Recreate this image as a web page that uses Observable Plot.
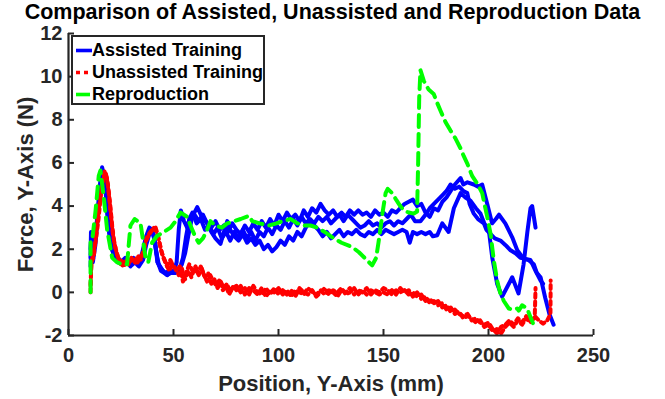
<!DOCTYPE html>
<html>
<head>
<meta charset="utf-8">
<script src="https://cdn.jsdelivr.net/npm/d3@7"></script>
<script src="https://cdn.jsdelivr.net/npm/@observablehq/plot@0.6"></script>
<style>
  body { margin: 0; background: #fff; }
  #wrap { position: relative; width: 665px; height: 399px; font-family: "Liberation Sans", Arial, sans-serif; }
  #title { position: absolute; left: 0; top: 0; width: 665px; text-align: center; font-weight: bold; font-size: 21.5px; line-height: 24px; color: #000; z-index: 2; white-space: nowrap; }
  #chart { position: absolute; left: 0; top: 0; }
  #legend { position: absolute; left: 71px; top: 35px; width: 190px; height: 66px; border: 2px solid #262626; background: #fff; z-index: 2; }
  .row { position: absolute; left: 0; height: 22px; width: 190px; }
  .row svg { position: absolute; left: 3px; top: 9px; }
  .row span { position: absolute; left: 19px; top: 0; font-weight: bold; font-size: 18px; line-height: 22px; color: #000; white-space: nowrap; }
</style>
</head>
<body>
<div id="wrap">
  <div id="chart"></div>
  <div id="title"></div>
  <div id="legend"></div>
</div>
<script>
// ---- text ----
const titleText = "Comparison of Assisted, Unassisted and Reproduction Data";
const xLabel = "Position, Y-Axis (mm)";
const yLabel = "Force, Y-Axis (N)";
const seriesNames = ["Assisted Training", "Unassisted Training", "Reproduction"];
const seriesColors = ["#0000ff", "#ff0000", "#00ff00"];

// ---- ticks ----
const xTicks = [0, 50, 100, 150, 200, 250];
const yTicks = [-2, 0, 2, 4, 6, 8, 10, 12];

// ---- Assisted training trials: [position mm, force N] ----
const assisted1 = [[10.5,1.6],[10.7,2.8],[11.5,1.9],[12.5,2.3],[13.8,3.6],[15,5.0],[16,5.8],[17,5.4],[18,4.3],[19,3.1],[20,2.3],[21.5,1.8],[23,1.5],[25,1.4],[27,1.6],[29,1.4],[31,1.6],[33,1.3],[35,1.8],[37,2.6],[38.5,3.0],[40,2.9],[41.3,2.3],[42.3,1.4],[44,1.1],[46,0.9],[48,1.0],[50,0.9],[51.5,1.4],[52.5,2.9],[53.5,3.8],[55,3.3],[56.5,3.0],[58,3.5],[60,3.6],[62,3.3],[64,3.6],[66,3.2],[68,3.0],[70,3.3],[72,2.9],[74,3.1],[76,2.8],[78,3.2],[80,2.9],[82,2.7],[84,3.1],[86,2.8],[88,3.2],[90,2.9],[92,3.3],[94,3.0],[96,3.4],[98,3.1],[100,3.6],[102,3.3],[104,3.7],[106,3.4],[108,3.6],[110,3.3],[112,3.8],[114,3.5],[116,3.9],[118,3.7],[120,4.1],[122,3.8],[124,3.6],[126,3.8],[128,3.5],[130,3.7],[132,3.5],[134,3.8],[136,3.6],[138,3.8],[140,3.6],[142,3.7],[144,3.5],[146,3.8],[148,3.6],[150,3.7],[152,3.5],[154,3.8],[156,3.7],[158,3.9],[160,4.1],[162,4.2],[164,4.3],[166,4.0],[168,4.1],[170,3.7],[172,3.5],[174,3.9],[176,3.8],[178,4.2],[180,4.4],[182,4.7],[184,5.0],[186.7,5.3],[188,5.0],[190,5.1],[193,5.0],[195,4.9],[197,5.0],[199.4,4.1],[201.7,3.2],[203.5,3.4],[205,3.6],[208,3.2],[211.3,2.55],[213.7,1.95],[216.8,1.55],[219,1.5],[221.6,1.3],[223,0.9],[224.8,0.7],[227,-0.25],[229,-1.0],[231,-1.5]];
const assisted2 = [[10.5,2.0],[10.9,2.6],[11.8,1.7],[13,2.7],[14.5,4.3],[15.7,5.4],[16.6,5.6],[17.6,4.9],[18.6,3.6],[19.8,2.5],[21,1.9],[22.5,1.6],[24.5,1.5],[26.5,1.3],[28.5,1.5],[30.5,1.3],[32.5,1.5],[34.5,1.4],[36,2.0],[37.5,2.6],[39,2.9],[40.5,2.7],[41.7,1.9],[43,1.3],[45,1.0],[47,0.8],[49,1.0],[51,0.9],[53,1.1],[54.5,1.6],[56,2.6],[57.5,3.4],[59,3.7],[61,3.2],[63,3.4],[65,2.9],[67,3.1],[69,2.7],[71,3.0],[73,2.5],[75,2.8],[77,2.4],[79,2.8],[81,2.5],[83,2.9],[85,2.5],[87,2.8],[89,2.4],[91,2.8],[93,2.6],[95,3.0],[97,2.7],[99,3.1],[101,2.9],[103,3.3],[105,3.0],[107,3.4],[109,3.1],[111,3.5],[113,3.2],[115,3.4],[117,3.2],[119,3.5],[121,3.3],[123,3.5],[125,3.2],[127,3.4],[129,3.6],[131,3.3],[133,3.6],[135,3.4],[137,3.2],[139,3.0],[141,3.1],[143,3.3],[145,3.1],[147,3.2],[149,3.0],[151,3.2],[153,3.3],[155,3.1],[157,3.3],[159,3.2],[161,3.4],[163,3.6],[165,3.3],[167.6,3.3],[170,3.6],[172,3.9],[174,4.1],[176,4.3],[178,4.5],[180,4.7],[181.9,5.0],[184,4.8],[186,4.9],[188,4.7],[189.9,4.6],[191,4.1],[193,3.65],[195,3.4],[197.8,3.2],[199,2.9],[201,2.7],[203,2.5],[205.7,2.4],[208,2.2],[210.5,1.95],[213,1.8],[215.2,1.6],[217.5,1.55],[220,1.5],[222.4,1.0],[224.8,0.55],[226,0.4]];
const assisted3 = [[10.5,1.2],[10.8,2.3],[11.6,1.4],[12.8,2.2],[14.2,3.8],[15.5,5.0],[16.5,5.5],[17.4,5.2],[18.4,4.0],[19.5,2.8],[20.8,2.0],[22,1.6],[23.5,1.4],[25.5,1.3],[27.5,1.5],[29.5,1.2],[31.5,1.4],[33.5,1.2],[35.5,1.5],[37,2.2],[38.5,2.7],[40,2.8],[41.2,2.3],[42.5,1.4],[44,1.0],[45.5,0.9],[47,0.8],[48.6,0.9],[50.2,0.9],[52,1.0],[54,1.3],[55.5,1.8],[57,2.6],[58.9,3.5],[61.3,3.95],[63.5,3.5],[66,3.2],[68,2.8],[70,2.5],[72.4,2.25],[74,2.8],[75.6,3.3],[77,2.9],[79,2.6],[81,2.4],[83,2.7],[85,2.3],[87,2.5],[89,2.2],[91,2.4],[93,2.0],[95,2.2],[97,1.9],[99,2.1],[101,2.4],[103,2.2],[105,2.6],[107,2.4],[109,2.8],[111,2.6],[113,3.0],[115,3.3],[117,3.1],[119,2.9],[121,2.6],[123,2.8],[125,2.5],[127,2.7],[129,2.9],[131,2.6],[133,2.8],[135,2.7],[137,2.9],[139,2.7],[141,2.6],[143,2.8],[145,2.7],[147,2.9],[149,2.7],[151,2.9],[153,2.8],[155,2.7],[157,2.8],[159,2.9],[161,2.8],[162.5,2.3],[164,2.8],[166,2.7],[168,2.8],[170,2.7],[172,2.8],[173.5,2.6],[175.6,2.65],[178,3.2],[181,2.8],[183.5,3.9],[186.7,4.6],[189,4.4],[191.4,4.25],[194,3.9],[196.2,3.65],[198,3.2],[200.2,2.85],[201.8,1.6],[204.1,0.4],[206.5,-0.2],[208.9,0.25],[211.3,0.7],[214.3,-0.05],[216.7,1.3],[218.5,2.8],[220,3.9],[220.8,4.0],[222.4,3.0]];

// ---- Unassisted training trials ----
const unassisted1 = [[10.5,0.0],[10.8,1.2],[11.8,1.8],[13,2.4],[14.3,3.4],[15.5,4.6],[16.8,5.3],[17.8,5.5],[18.8,5.0],[19.8,4.1],[20.8,3.1],[21.8,2.3],[23,1.8],[24.3,1.4],[25.5,1.2],[27,1.5],[28.5,1.3],[30,1.6],[31.5,1.4],[33,1.7],[34.5,1.5],[36,2.1],[37.5,2.6],[39,2.8],[40.5,3.0],[42,2.8],[43.3,2.3],[44.5,1.8],[45.8,1.5],[47,1.2],[48.5,1.5],[50,1.2],[51.5,1.0],[53,1.2],[54.5,0.5],[56,0.9],[57.5,1.3],[59,1.0],[60.5,1.2],[62,0.8],[63.5,1.1],[65,0.7],[66.5,0.9],[68,0.4],[69.5,0.6],[71,0.2],[72.5,0.5],[74,0.2],[75.5,0.4],[77,0.0],[78.5,0.3],[80,0.1],[82,0.3],[84,-0.1],[86,0.2],[88,0.1],[90,-0.1],[92,0.2],[94,-0.2],[96,0.1],[98,0.0],[100,0.2],[102,-0.1],[104,0.1],[106,-0.2],[108,0.1],[110,0.0],[112,-0.1],[114,0.2],[116,0.0],[118,-0.1],[120,0.1],[122,-0.1],[124,0.1],[126,0.0],[128,-0.2],[130,0.1],[132,0.0],[134,0.2],[136,-0.1],[138,0.1],[140,0.0],[142,0.2],[144,-0.1],[146,0.1],[148,0.0],[150,0.2],[152,0.1],[154,-0.1],[156,0.1],[158,0.0],[160,0.1],[162,-0.1],[164,0.0],[166,-0.2],[168,-0.1],[170,-0.4],[172,-0.3],[174,-0.5],[176,-0.4],[178,-0.7],[180,-0.6],[182,-0.9],[184,-0.8],[186,-1.0],[188,-1.1],[190,-1.0],[192,-1.3],[194,-1.2],[196,-1.4],[198,-1.5],[200,-1.4],[202,-1.7],[204,-1.9],[206,-1.6],[208,-1.5],[210,-1.3],[212,-1.5],[214,-1.2],[216,-1.4],[218,-1.1],[220,-1.3],[222,-1.2],[222.4,0.2]];
const unassisted2 = [[10.5,0.3],[11,1.5],[12,1.6],[13.2,2.8],[14.6,4.0],[16,5.0],[17.2,5.6],[18.3,5.3],[19.3,4.5],[20.3,3.5],[21.3,2.6],[22.5,2.0],[23.7,1.6],[25,1.5],[26.5,1.2],[28,1.6],[29.5,1.4],[31,1.5],[32.5,1.3],[34,1.6],[35.5,1.8],[37,2.4],[38.5,2.7],[40,2.9],[41.5,3.0],[42.7,2.6],[44,2.0],[45.2,1.6],[46.5,1.3],[48,1.0],[49.5,1.3],[51,1.1],[52.5,0.8],[54,1.1],[55.5,0.6],[57,1.0],[58.5,0.7],[60,1.1],[61.5,0.9],[63,1.2],[64.5,0.8],[66,0.5],[67.5,0.8],[69,0.5],[70.5,0.3],[72,0.6],[73.5,0.1],[75,0.3],[76.5,-0.1],[78,0.2],[80,0.3],[82,0.0],[84,0.2],[86,-0.1],[88,0.3],[90,0.0],[92,-0.1],[94,0.2],[96,-0.1],[98,0.2],[100,-0.1],[102,0.1],[104,-0.1],[106,0.1],[108,-0.2],[110,0.2],[112,0.0],[114,-0.1],[116,0.1],[118,-0.2],[120,0.0],[122,0.2],[124,-0.1],[126,0.1],[128,0.0],[130,0.2],[132,-0.1],[134,0.0],[136,0.2],[138,-0.1],[140,0.1],[142,-0.1],[144,0.1],[146,0.0],[148,-0.1],[150,0.0],[152,-0.1],[154,0.1],[156,-0.1],[158,0.2],[160,0.0],[162,0.1],[164,-0.2],[166,0.0],[168,-0.3],[170,-0.2],[172,-0.5],[174,-0.4],[176,-0.6],[178,-0.5],[180,-0.8],[182,-0.7],[184,-1.0],[186,-0.9],[188,-1.2],[190,-1.1],[192,-1.2],[194,-1.4],[196,-1.3],[198,-1.6],[200,-1.5],[202,-1.8],[204,-1.7],[206,-1.9],[208,-1.6],[210,-1.4],[212,-1.6],[214,-1.3],[216,-1.5],[218,-1.2],[220,-1.4],[222,-1.1],[224,-1.3],[226,-1.45],[228,-1.3],[229.5,-1.0],[229.6,0.55]];

// ---- Reproduction ----
const reproduction = [[10.5,0.0],[10.5,2.5],[11.5,2.6],[12.9,3.8],[14.4,5.4],[15.2,5.65],[16.8,4.4],[18.4,2.9],[20.8,1.6],[23,1.4],[25.5,1.3],[27.9,1.3],[28.5,2.0],[29.5,3.1],[31.5,3.4],[34.3,3.2],[35.5,2.4],[36.7,1.6],[38,1.4],[39.8,2.3],[42,2.6],[45.4,2.8],[48.6,3.0],[51,3.3],[53.3,3.7],[56.5,3.5],[58.5,3.0],[60.5,2.55],[62,2.3],[64,2.5],[66,2.9],[67.6,3.3],[70,3.1],[73,3.0],[75.6,3.2],[79,3.3],[82,3.4],[85.9,3.55],[87.5,3.3],[91,3.2],[95.4,3.1],[99,3.2],[102,3.3],[105.7,3.4],[109,3.2],[112,3.1],[115.2,3.1],[118.4,3.0],[122,2.8],[125.6,2.55],[130,2.3],[135.1,2.1],[138.3,1.86],[141,1.6],[144.6,1.25],[146.5,1.6],[147.6,2.3],[148.6,3.0],[149.4,3.6],[151,4.6],[152,4.8],[154.1,4.6],[156,4.3],[158,4.0],[159.7,3.8],[162,3.7],[164.4,3.65],[166,3.75],[166.5,6.0],[167,9.0],[167.6,10.3],[169.2,9.8],[171.5,9.4],[173.9,9.2],[175.5,8.8],[177.1,8.43],[179.5,7.9],[181.9,7.5],[184.3,7.13],[186.7,6.67],[188.3,6.3],[189.9,5.97],[192.2,5.4],[194.6,5.05],[197,4.6],[198.3,4.0],[199.4,3.5],[201,2.7],[202.5,1.5],[204.1,0.55],[205.5,0.0],[207.3,-0.4],[209.7,-0.75],[211.5,-0.8],[213.7,-0.75],[214.4,-0.85],[216,-0.6],[218.4,-0.75],[220,-1.15],[221.6,-1.54]];

// ---- build tables ----
const toRows = (arr, trial) => arr.map(([x, y]) => ({x, y, trial}));
const assistedRows = [...toRows(assisted1, 1), ...toRows(assisted2, 2), ...toRows(assisted3, 3)];
const unassistedRows = [...toRows(unassisted1, 1), ...toRows(unassisted2, 2)];
const reproRows = toRows(reproduction, 1);

const axisColor = "#262626";
const font = "Liberation Sans, Arial, sans-serif";

const chart = Plot.plot({
  width: 665,
  height: 399,
  marginLeft: 68,
  marginRight: 72,
  marginTop: 33,
  marginBottom: 64,
  style: {fontFamily: font, background: "white", overflow: "visible"},
  x: {domain: [0, 250]},
  y: {domain: [-2, 12]},
  marks: [
    Plot.line(assistedRows, {x: "x", y: "y", z: "trial", stroke: seriesColors[0], strokeWidth: 4, strokeLinejoin: "round"}),
    Plot.line(unassistedRows, {x: "x", y: "y", z: "trial", stroke: seriesColors[1], strokeWidth: 4, strokeDasharray: "4,4"}),
    Plot.line(reproRows, {x: "x", y: "y", stroke: seriesColors[2], strokeWidth: 4, strokeDasharray: "12,7"}),
    Plot.ruleX([0], {stroke: axisColor, strokeWidth: 2.2}),
    Plot.ruleY([-2], {stroke: axisColor, strokeWidth: 2.2}),
    Plot.tickX(xTicks, {x: d => d, insetTop: 296, stroke: axisColor, strokeWidth: 2}),
    Plot.tickY(yTicks, {y: d => d, insetRight: 519, stroke: axisColor, strokeWidth: 2}),
    Plot.axisX(xTicks, {tickSize: 0, tickPadding: 12, fontSize: 20, fontWeight: "bold", color: axisColor, label: null, tickFormat: d => String(d)}),
    Plot.axisY(yTicks, {tickSize: 0, tickPadding: 6, fontSize: 20, fontWeight: "bold", color: axisColor, label: null, tickFormat: d => String(d)}),
    Plot.text([xLabel], {text: d => d, frameAnchor: "bottom", dy: 48, lineAnchor: "middle", textAnchor: "middle", fontSize: 22, fontWeight: "bold", fill: axisColor}),
    Plot.text([yLabel], {text: d => d, frameAnchor: "left", dx: -43, rotate: -90, lineAnchor: "middle", textAnchor: "middle", fontSize: 22, fontWeight: "bold", fill: axisColor})
  ]
});
document.getElementById("chart").appendChild(chart);

document.getElementById("title").textContent = titleText;

// legend
const legend = document.getElementById("legend");
const dashes = [null, "4,4", "14,6"];
seriesNames.forEach((name, i) => {
  const row = document.createElement("div");
  row.className = "row";
  row.style.top = (2 + i * 22) + "px";
  const dash = dashes[i] ? `stroke-dasharray="${dashes[i]}"` : "";
  row.innerHTML = `<svg width="16" height="5"><line x1="0" y1="2.5" x2="16" y2="2.5" stroke="${seriesColors[i]}" stroke-width="3.6" ${dash}/></svg><span>${name}</span>`;
  legend.appendChild(row);
});
</script>
</body>
</html>
